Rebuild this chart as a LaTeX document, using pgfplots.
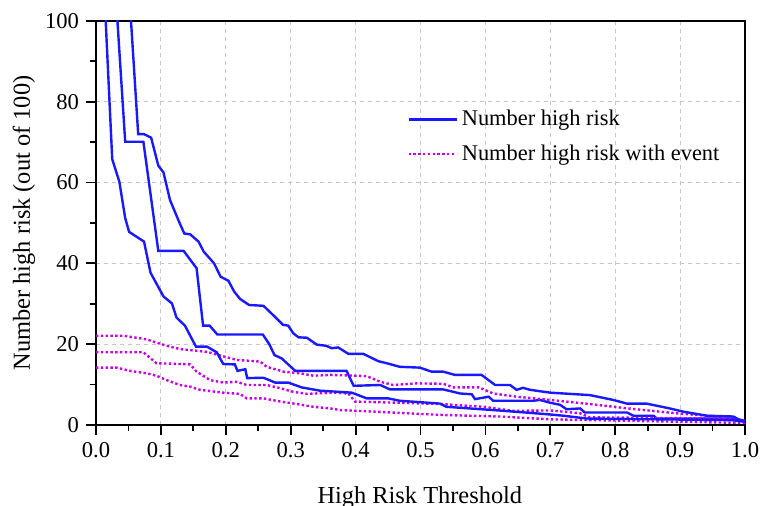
\documentclass[border=0pt]{standalone}
\usepackage{fontspec}
\setmainfont{Liberation Serif}
\usepackage{pgfplots}
\pgfplotsset{compat=1.18}
\definecolor{riskblue}{RGB}{25,25,255}
\definecolor{eventmag}{RGB}{200,0,235}

\begin{document}
\begin{tikzpicture}
\path[use as bounding box] (-48pt,-40.5pt) rectangle (332pt,212.5pt);
\begin{axis}[
  at={(0,0)}, anchor=south west,
  scale only axis,
  width=324.5pt, height=202pt,
  xmin=0, xmax=1, ymin=0, ymax=100,
  xtick={0,0.1,0.2,0.3,0.4,0.5,0.6,0.7,0.8,0.9,1},
  ytick={0,20,40,60,80,100},
  minor x tick num=1, minor y tick num=1,
  tick pos=left, tick align=outside,
  major tick length=5pt, minor tick length=3pt,
  every tick/.style={black, line width=0.9pt},
  axis line style={black, line width=1.1pt},
  grid=major,
  major grid style={gray!45, line width=0.5pt, dash pattern=on 2pt off 2pt},
  xticklabel style={/pgf/number format/fixed, /pgf/number format/precision=1, /pgf/number format/fixed zerofill},
  /pgf/number format/assume math mode=true,
  tick label style={font=\fontsize{11.3}{13}\selectfont},
  label style={font=\fontsize{12.2}{14}\selectfont},
  xlabel={High Risk Threshold},
  ylabel={Number high risk (out of 100)},
  xlabel style={at={(axis description cs:0.499,-0.18)}, anchor=center},
  ylabel style={at={(axis description cs:-0.111,0.5)}, anchor=center},
  legend style={at={(0.47,0.80)}, anchor=north west, draw=none, fill=none,
    font=\fontsize{11.2}{13}\selectfont, row sep=4pt},
  legend cell align=left,
  legend image code/.code={\draw[#1] (0pt,0pt) -- (24pt,0pt);},
  clip=true,
]
% middle curve: number high risk
\addplot[riskblue, line width=1.2pt] coordinates {
(0.029,110) (0.045,70.1) (0.073,70.1) (0.096,43.1) (0.135,43.1) (0.155,38.8)
(0.165,24.6) (0.175,24.6) (0.187,22.4) (0.257,22.4) (0.267,20.0) (0.275,17.3)
(0.286,16.5) (0.307,13.4) (0.386,13.4) (0.397,9.7) (0.438,9.9) (0.453,8.8)
(0.535,8.8) (0.561,7.8) (0.579,7.6) (0.584,6.4) (0.605,7.0) (0.612,6.0)
(0.674,6.0) (0.684,6.2) (0.700,5.5) (0.715,5.0) (0.725,3.9) (0.746,4.1)
(0.753,3.1) (0.818,3.1) (0.828,2.3) (0.859,2.3) (0.864,1.6) (0.985,1.6)
(1.000,1.0)};
\addlegendentry{Number high risk}
% middle curve: number high risk with event
\addplot[eventmag, line width=1.2pt, dash pattern=on 1.2pt off 1.2pt] coordinates {
(0.000,18.0) (0.073,18.0) (0.093,15.3) (0.145,15.0) (0.155,13.2) (0.176,11.1)
(0.196,10.5) (0.217,10.7) (0.232,9.9) (0.263,9.9) (0.284,9.1) (0.304,8.2)
(0.325,7.7) (0.366,8.0) (0.389,7.8) (0.399,5.8) (0.468,5.5) (0.530,5.2)
(0.597,4.5) (0.643,3.5) (0.700,3.6) (0.746,2.9) (0.760,1.9) (0.950,1.6)
(1.000,1.0)};
\addlegendentry{Number high risk with event}
% upper and lower bounds, events
\addplot[eventmag, line width=1.2pt, dash pattern=on 1.2pt off 1.2pt, forget plot] coordinates {
(0.000,22.1) (0.042,22.1) (0.078,21.2) (0.093,20.4) (0.109,19.6) (0.129,18.8)
(0.171,18.1) (0.191,17.2) (0.217,16.1) (0.253,15.7) (0.263,14.4) (0.289,13.2)
(0.314,12.8) (0.335,12.2) (0.361,12.4) (0.417,12.1) (0.438,10.7) (0.458,9.9)
(0.494,10.3) (0.535,10.2) (0.551,9.3) (0.590,9.3) (0.612,7.8) (0.648,7.0)
(0.700,6.2) (0.760,5.2) (0.820,4.1) (0.900,2.8) (0.950,2.2) (1.000,1.0)};
\addplot[eventmag, line width=1.2pt, dash pattern=on 1.2pt off 1.2pt, forget plot] coordinates {
(0.000,14.2) (0.032,14.2) (0.052,13.4) (0.078,12.8) (0.093,12.2) (0.109,11.1)
(0.129,9.9) (0.145,9.5) (0.160,8.7) (0.196,8.0) (0.222,7.7) (0.232,6.6)
(0.258,6.6) (0.284,5.8) (0.309,5.2) (0.335,4.5) (0.361,4.1) (0.376,3.7)
(0.468,3.0) (0.530,2.5) (0.622,2.1) (0.700,1.4) (0.800,1.1) (1.000,0.5)};
% upper and lower bounds, high risk
\addplot[riskblue, line width=1.2pt, forget plot] coordinates {
(0.050,110) (0.065,72.0) (0.074,72.0) (0.085,71.1) (0.096,64.2) (0.104,62.5)
(0.114,55.7) (0.128,50.3) (0.136,47.4) (0.145,47.2) (0.158,45.4) (0.166,42.9)
(0.182,40.0) (0.192,36.7) (0.204,35.7) (0.213,33.0) (0.222,31.2) (0.236,29.7)
(0.258,29.5) (0.273,27.2) (0.288,24.8) (0.296,24.6) (0.304,22.7) (0.312,21.7)
(0.325,21.6) (0.340,19.9) (0.355,19.6) (0.363,19.0) (0.373,19.2) (0.389,17.6)
(0.412,17.6) (0.435,15.8) (0.450,15.2) (0.468,14.4) (0.499,14.2) (0.517,13.2)
(0.535,13.2) (0.553,12.4) (0.594,12.4) (0.615,9.9) (0.638,9.9) (0.648,8.7)
(0.658,9.2) (0.669,8.7) (0.700,8.0) (0.761,7.4) (0.797,6.2) (0.818,5.3)
(0.848,5.3) (0.884,4.1) (0.905,3.3) (0.941,2.3) (0.982,2.1) (0.992,1.2)
(1.000,0.8)};
\addplot[riskblue, line width=1.2pt, forget plot] coordinates {
(0.012,110) (0.025,65.8) (0.036,60.2) (0.045,51.2) (0.051,47.8) (0.074,45.4)
(0.084,37.7) (0.104,31.8) (0.117,30.1) (0.124,26.6) (0.137,24.6) (0.154,19.4)
(0.171,19.4) (0.186,18.0) (0.196,15.1) (0.214,15.0) (0.218,13.4) (0.230,13.8)
(0.233,11.6) (0.258,11.7) (0.276,10.5) (0.296,10.5) (0.317,9.3) (0.345,8.5)
(0.394,8.0) (0.417,6.6) (0.450,6.6) (0.468,6.0) (0.530,5.3) (0.540,4.5)
(0.620,3.6) (0.669,3.0) (0.700,2.6) (0.720,2.3) (0.756,1.6) (0.980,1.2)
(1.000,0.8)};
\end{axis}
\end{tikzpicture}
\end{document}
